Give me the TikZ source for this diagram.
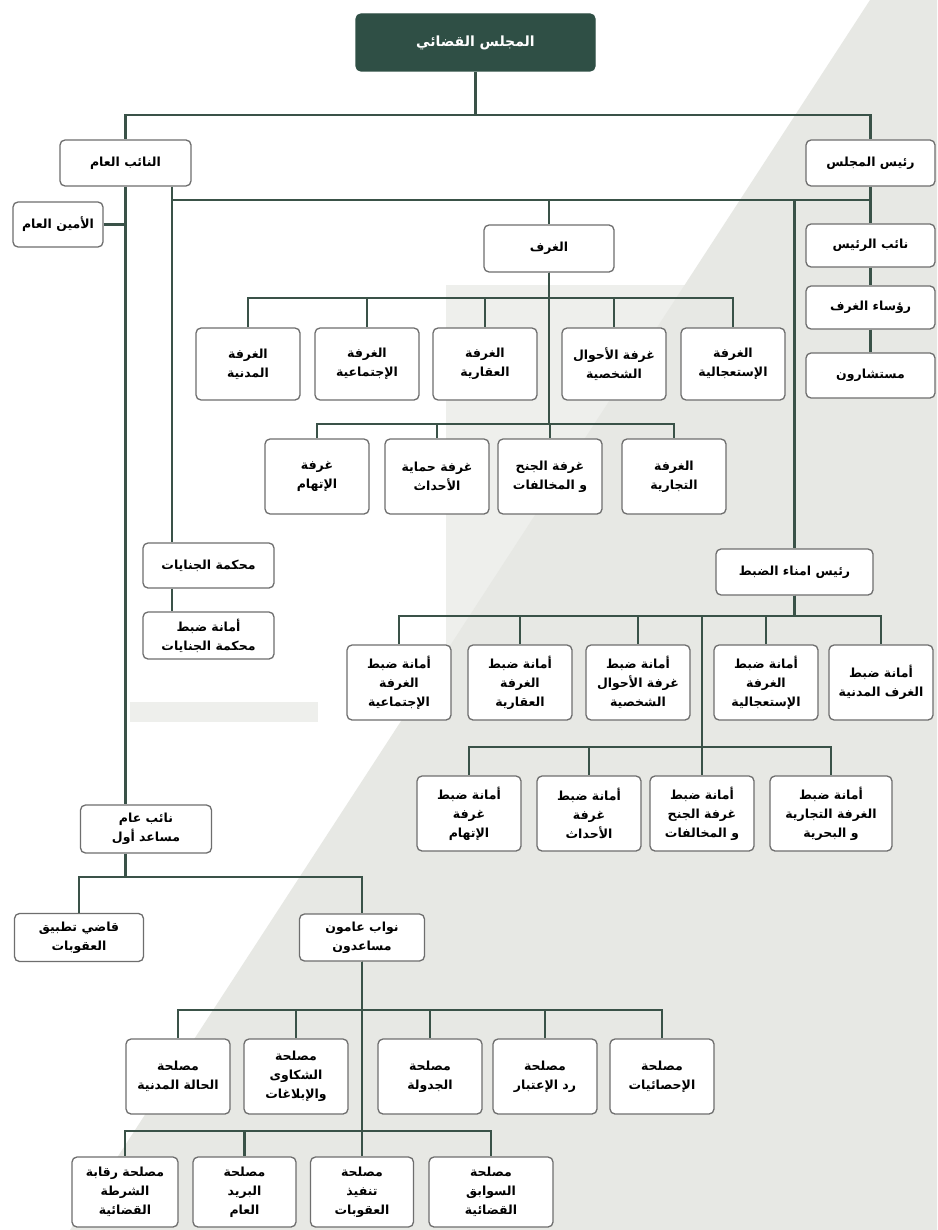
\documentclass[tikz,border=0pt]{standalone}
\usepackage{fontspec}
\newfontfamily\arabicfont[Script=Arabic]{DejaVu Sans}
\TeXXeTstate=1
\newcommand{\RL}[1]{\beginR #1\endR}
\definecolor{linegreen}{HTML}{3A5248}
\definecolor{boxgray}{HTML}{6E6E6E}
\definecolor{topgreen}{HTML}{2F4F45}
\definecolor{bggray}{HTML}{E7E8E4}
\definecolor{wmgray}{HTML}{EEEFEC}
\begin{document}
\begin{tikzpicture}[x=1pt,y=-1pt,
  box/.style={draw=boxgray, line width=1.3pt, rounded corners=5pt, fill=white,
    font=\arabicfont\bfseries\fontsize{12.5}{19}\selectfont, align=center, inner sep=1pt, text=black},
  conn/.style={draw=linegreen, line width=2.8pt},
]
\useasboundingbox (0,0) rectangle (937,1230);
\fill[white] (0,0) rectangle (937,1230);
\fill[wmgray] (446,285) rectangle (748,935);
\fill[wmgray] (130,702) rectangle (318,722);
\fill[bggray] (870,0) -- (937,0) -- (937,1230) -- (70,1230) -- cycle;

% nodes
\node[box, fill=topgreen, draw=topgreen, text=white, minimum width=239, minimum height=57,
  font=\arabicfont\bfseries\fontsize{14}{16}\selectfont] (top) at (475.5,42.5) {\RL{المجلس القضائي}};
\node[box, minimum width=131, minimum height=46] (ng) at (125.5,163) {\RL{النائب العام}};
\node[box, minimum width=129, minimum height=46] (rm) at (870.5,163) {\RL{رئيس المجلس}};
\node[box, minimum width=90, minimum height=45] (amin) at (58,224.5) {\RL{الأمين العام}};
\node[box, minimum width=130, minimum height=47] (ghuraf) at (549,248.5) {\RL{الغرف}};
\node[box, minimum width=129, minimum height=43] (nr) at (870.5,245.5) {\RL{نائب الرئيس}};
\node[box, minimum width=129, minimum height=43] (rg) at (870.5,307.5) {\RL{رؤساء الغرف}};
\node[box, minimum width=129, minimum height=45] (ms) at (870.5,375.5) {\RL{مستشارون}};

\begin{scope}[every node/.append style={minimum width=104, minimum height=72}]
\node[box] (g51) at (248,364) {\RL{الغرفة}\\\RL{المدنية}};
\node[box] (g52) at (367,364) {\RL{الغرفة}\\\RL{الإجتماعية}};
\node[box] (g53) at (485,364) {\RL{الغرفة}\\\RL{العقارية}};
\node[box] (g54) at (614,364) {\RL{غرفة الأحوال}\\\RL{الشخصية}};
\node[box] (g55) at (733,364) {\RL{الغرفة}\\\RL{الإستعجالية}};
\end{scope}
\begin{scope}[every node/.append style={minimum width=104, minimum height=75}]
\node[box] (g41) at (317,476.5) {\RL{غرفة}\\\RL{الإتهام}};
\node[box] (g42) at (437,476.5) {\RL{غرفة حماية}\\\RL{الأحداث}};
\node[box] (g43) at (550,476.5) {\RL{غرفة الجنح}\\\RL{و المخالفات}};
\node[box] (g44) at (674,476.5) {\RL{الغرفة}\\\RL{التجارية}};
\end{scope}

\node[box, minimum width=131, minimum height=45] (mj) at (208.5,565.5) {\RL{محكمة الجنايات}};
\node[box, minimum width=131, minimum height=47] (amj) at (208.5,635.5) {\RL{أمانة ضبط}\\\RL{محكمة الجنايات}};
\node[box, minimum width=157, minimum height=46] (ra) at (794.5,572) {\RL{رئيس امناء الضبط}};

\begin{scope}[every node/.append style={minimum width=104, minimum height=75}]
\node[box] (r51) at (399,682.5) {\RL{أمانة ضبط}\\\RL{الغرفة}\\\RL{الإجتماعية}};
\node[box] (r52) at (520,682.5) {\RL{أمانة ضبط}\\\RL{الغرفة}\\\RL{العقارية}};
\node[box] (r53) at (638,682.5) {\RL{أمانة ضبط}\\\RL{غرفة الأحوال}\\\RL{الشخصية}};
\node[box] (r54) at (766,682.5) {\RL{أمانة ضبط}\\\RL{الغرفة}\\\RL{الإستعجالية}};
\node[box] (r55) at (881,682.5) {\RL{أمانة ضبط}\\\RL{الغرف المدنية}};
\node[box] (r41) at (469,813.5) {\RL{أمانة ضبط}\\\RL{غرفة}\\\RL{الإتهام}};
\node[box] (r42) at (589,813.5) {\RL{أمانة ضبط}\\\RL{غرفة}\\\RL{الأحداث}};
\node[box] (r43) at (702,813.5) {\RL{أمانة ضبط}\\\RL{غرفة الجنح}\\\RL{و المخالفات}};
\node[box, minimum width=122] (r44) at (831,813.5) {\RL{أمانة ضبط}\\\RL{الغرفة التجارية}\\\RL{و البحرية}};
\end{scope}

\node[box, minimum width=131, minimum height=48] (nam) at (146,829) {\RL{نائب عام}\\\RL{مساعد أول}};
\node[box, minimum width=129, minimum height=48] (qadi) at (79,937.5) {\RL{قاضي تطبيق}\\\RL{العقوبات}};
\node[box, minimum width=125, minimum height=47] (nw) at (362,937.5) {\RL{نواب عامون}\\\RL{مساعدون}};

\begin{scope}[every node/.append style={minimum width=104, minimum height=75}]
\node[box] (m51) at (178,1076.5) {\RL{مصلحة}\\\RL{الحالة المدنية}};
\node[box] (m52) at (296,1076.5) {\RL{مصلحة}\\\RL{الشكاوى}\\\RL{والإبلاغات}};
\node[box] (m53) at (430,1076.5) {\RL{مصلحة}\\\RL{الجدولة}};
\node[box] (m54) at (545,1076.5) {\RL{مصلحة}\\\RL{رد الإعتبار}};
\node[box] (m55) at (662,1076.5) {\RL{مصلحة}\\\RL{الإحصائيات}};
\end{scope}
\begin{scope}[every node/.append style={minimum height=70}]
\node[box, minimum width=106] (m41) at (125,1192) {\RL{مصلحة رقابة}\\\RL{الشرطة}\\\RL{القضائية}};
\node[box, minimum width=103] (m42) at (244.5,1192) {\RL{مصلحة}\\\RL{البريد}\\\RL{العام}};
\node[box, minimum width=103] (m43) at (362,1192) {\RL{مصلحة}\\\RL{تنفيذ}\\\RL{العقوبات}};
\node[box, minimum width=124] (m44) at (491,1192) {\RL{مصلحة}\\\RL{السوابق}\\\RL{القضائية}};
\end{scope}

% bus levels
\coordinate (b1) at (0,115);
\coordinate (b2) at (0,200);
\coordinate (vL) at (172,0);
\coordinate (b3) at (0,298);
\coordinate (b4) at (0,424);
\coordinate (b5) at (0,616);
\coordinate (b6) at (0,747);
\coordinate (b7) at (0,877);
\coordinate (b8) at (0,1010);
\coordinate (b9) at (0,1131);

% connectors
\draw[conn] (top.south) -- (top.south |- b1) -| (ng.north);
\draw[conn] (top.south |- b1) -| (rm.north);
\draw[conn] (rm.south) -- (nr.north);
\draw[conn] (nr.south) -- (rg.north);
\draw[conn] (rg.south) -- (ms.north);
\draw[conn] (amin.east) -- (amin.east -| ng.south);
\draw[conn] (ng.south) -- (ng.south |- nam.north);
\draw[conn] (ng.south |- nam.south) -- (ng.south |- b7);
\draw[conn] (ng.south -| vL) -- (vL |- mj.north);
\draw[conn] (vL |- mj.south) -- (vL |- amj.north);
\draw[conn] (vL |- b2) -- (rm.south |- b2);
\draw[conn] (ghuraf.north |- b2) -- (ghuraf.north);
\draw[conn] (ra.north |- b2) -- (ra.north);
\foreach \n in {g51,g52,g53,g54,g55}
  \draw[conn] (ghuraf.south) -- (ghuraf.south |- b3) -| (\n.north);
\foreach \n in {g41,g42,g43,g44}
  \draw[conn] (ghuraf.south) -- (ghuraf.south |- b4) -| (\n.north);
\foreach \n in {r51,r52,r53,r54,r55}
  \draw[conn] (ra.south) -- (ra.south |- b5) -| (\n.north);
\foreach \n in {r41,r42,r43,r44}
  \draw[conn] (r43.north |- b5) -- (r43.north |- b6) -| (\n.north);
\draw[conn] (ng.south |- b7) -| (qadi.north);
\draw[conn] (ng.south |- b7) -| (nw.north);
\foreach \n in {m51,m52,m53,m54,m55}
  \draw[conn] (nw.south) -- (nw.south |- b8) -| (\n.north);
\foreach \n in {m41,m42,m43,m44}
  \draw[conn] (nw.south) -- (nw.south |- b9) -| (\n.north);
\end{tikzpicture}
\end{document}
